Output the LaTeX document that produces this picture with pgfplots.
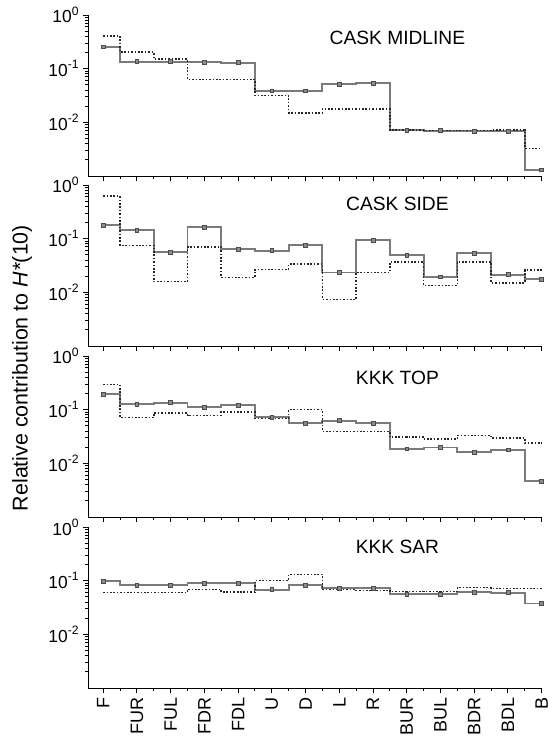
\documentclass[border=0pt]{standalone}
\usepackage{pgfplots}
\usepackage{pgfplotstable}
\pgfplotsset{compat=1.18}
\usepackage{fontspec}
\setmainfont{Liberation Sans}

\pgfplotstableread{
x s d
0  0.255  0.41
1  0.135  0.205
2  0.135  0.15
3  0.131  0.063
4  0.130  0.063
5  0.0387 0.0316
6  0.0387 0.015
7  0.0516 0.0178
8  0.0531 0.0178
9  0.00708 0.0072
10 0.0070 0.0071
11 0.0069 0.0070
12 0.0069 0.0072
13 0.0013 0.00326
}\tabA

\pgfplotstableread{
x s d
0  0.18   0.62
1  0.143  0.075
2  0.056  0.0158
3  0.163  0.0698
4  0.064  0.0191
5  0.0596 0.0266
6  0.076  0.0335
7  0.0234 0.0074
8  0.0944 0.0234
9  0.0487 0.037
10 0.0194 0.0133
11 0.0539 0.037
12 0.0214 0.015
13 0.0175 0.0259
}\tabB

\pgfplotstableread{
x s d
0  0.194  0.294
1  0.126  0.0718
2  0.135  0.0866
3  0.1106 0.0783
4  0.1206 0.0904
5  0.0718 0.0688
6  0.0562 0.10
7  0.0622 0.0393
8  0.0562 0.0393
9  0.0186 0.0307
10 0.0197 0.0282
11 0.0163 0.033
12 0.0178 0.0294
13 0.00467 0.0237
}\tabC

\pgfplotstableread{
x s d
0  0.0986 0.0596
1  0.083  0.0596
2  0.0818 0.0596
3  0.0904 0.0688
4  0.089  0.0613
5  0.0678 0.101
6  0.083  0.131
7  0.0718 0.0678
8  0.0729 0.0659
9  0.0562 0.0622
10 0.0554 0.0622
11 0.0604 0.0739
12 0.0596 0.0718
13 0.0376 0.0718
}\tabD

\pgfplotsset{
  every axis/.append style={
    scale only axis, width=226.85pt, height=80.5pt,
    ymin=1e-3, ymax=1, xmin=-0.45, xmax=13,
    axis x line=bottom, axis y line=left,
    axis line style={-, line width=0.5pt, black},
    xtick={0,...,13}, minor xtick={0.5,1.5,...,12.5},
    ytick={0.01,0.1,1},
    yticklabels={10\textsuperscript{-2},10\textsuperscript{-1},10\textsuperscript{0}},
    minor ytick={0.002,0.003,0.004,0.005,0.006,0.007,0.008,0.009,0.02,0.03,0.04,0.05,0.06,0.07,0.08,0.09,0.2,0.3,0.4,0.5,0.6,0.7,0.8,0.9},
    tick align=outside, major tick length=2.5pt, minor tick length=1.3pt,
    tick style={black, line width=0.5pt},
    yticklabel style={font=\fontsize{8.7}{10}\selectfont, inner sep=1.5pt},
    clip=false,
  },
}
\tikzset{
  mysolid/.style={color=black!52, line width=0.95pt,
    mark=square*, mark size=0.95pt, mark options={fill=black!45, draw=black!70, line width=0.35pt, solid}},
  mydot/.style={color=black!85, line width=0.75pt,
    dash pattern=on 0.8pt off 0.9pt},
  myttl/.style={font=\fontsize{9.6}{11}\selectfont, anchor=center},
}

\begin{document}
\begin{tikzpicture}
\useasboundingbox (0,0) rectangle (278pt,-369pt);

\begin{semilogyaxis}[at={(44pt,-88pt)}, anchor=south west, xticklabels={}]
\addplot[const plot mark mid, mysolid] table[x=x,y=s]{\tabA};
\addplot[const plot mark mid, mydot, mark=none] table[x=x,y=d]{\tabA};
\node[myttl] at (rel axis cs:0.682,0.857) {CASK MIDLINE};
\end{semilogyaxis}

\begin{semilogyaxis}[at={(44pt,-173pt)}, anchor=south west, xticklabels={}]
\addplot[const plot mark mid, mysolid] table[x=x,y=s]{\tabB};
\addplot[const plot mark mid, mydot, mark=none] table[x=x,y=d]{\tabB};
\node[myttl] at (rel axis cs:0.682,0.882) {CASK SIDE};
\end{semilogyaxis}

\begin{semilogyaxis}[at={(44pt,-258.5pt)}, anchor=south west, xticklabels={}]
\addplot[const plot mark mid, mysolid] table[x=x,y=s]{\tabC};
\addplot[const plot mark mid, mydot, mark=none] table[x=x,y=d]{\tabC};
\node[myttl] at (rel axis cs:0.682,0.863) {KKK TOP};
\end{semilogyaxis}

\begin{semilogyaxis}[at={(44pt,-344pt)}, anchor=south west,
  xticklabels={F,FUR,FUL,FDR,FDL,U,D,L,R,BUR,BUL,BDR,BDL,B},
  xticklabel style={rotate=90, anchor=east, font=\fontsize{9}{10}\selectfont, inner sep=2pt}]
\addplot[const plot mark mid, mysolid] table[x=x,y=s]{\tabD};
\addplot[const plot mark mid, mydot, mark=none] table[x=x,y=d]{\tabD};
\node[myttl] at (rel axis cs:0.682,0.878) {KKK SAR};
\end{semilogyaxis}

\node[rotate=90, font=\fontsize{10.7}{12}\selectfont] at (11pt,-184pt) {Relative contribution to \textit{H*}(10)};
\end{tikzpicture}
\end{document}
